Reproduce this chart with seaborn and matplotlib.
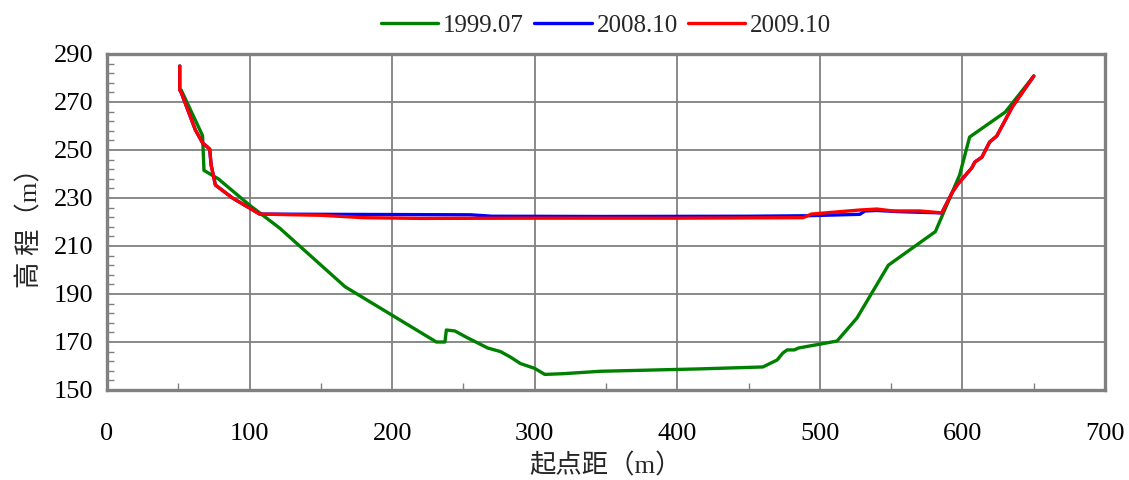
import numpy as np
import pandas as pd
import matplotlib
matplotlib.use("Agg")
import matplotlib.pyplot as plt
from matplotlib.ticker import FixedLocator
import seaborn as sns

x_1999 = [52, 67, 68, 78, 100, 121, 167, 231, 237, 238, 244, 252, 267, 276, 283, 290,
          300, 307, 320, 346, 416, 460, 470, 474, 477, 482, 485, 512, 526, 548, 581, 598,
          605, 630, 650]
y_1999 = [275, 256, 241.5, 238, 227, 217.5, 193, 170, 170, 175, 174.6, 172, 167.5,
          166, 163.7, 161, 159, 156.5, 156.8, 157.8, 158.8, 159.6, 162.5, 165.4, 166.7,
          166.7, 167.5, 170.4, 180, 202, 216, 239.6, 255.4, 265.8, 280.8]

x_2008 = [51, 51, 52, 62, 67, 72, 73, 76, 88, 100, 107, 150, 255, 270, 350, 450, 490,
          528, 531.5, 540, 556, 585.5, 593, 597, 606.5, 608.7, 613.6, 619, 624, 635, 650]
y_2008 = [285, 275, 274, 258.3, 253, 250.4, 243.8, 235.4, 230, 225.8, 223.3, 223.2, 223.0,
          222.4, 222.3, 222.4, 222.6, 223.2, 224.6, 224.8, 224.3, 223.8, 232.5, 236,
          242.5, 245, 247, 253.3, 255.8, 268, 280.8]

x_2009 = [51, 51, 52, 62, 67, 72, 73, 76, 88, 100, 107, 150, 180, 220, 300, 400, 488,
          491, 494, 528, 540, 551, 570, 585.5, 593, 597, 606.5, 608.7, 613.6, 619, 624,
          635, 650]
y_2009 = [285, 275, 274, 258.3, 253, 250.4, 243.8, 235.4, 230, 225.8, 223.3, 222.8, 221.8,
          221.5, 221.6, 221.6, 221.8, 222.5, 223.3, 225, 225.4, 224.6, 224.6, 223.8, 232.5,
          236, 242.5, 245, 247, 253.3, 255.8, 268, 280.8]

series = ["1999.07", "2008.10", "2009.10"]
colors = ["#008000", "#0000ff", "#ff0000"]
y_ticks = [150, 170, 190, 210, 230, 250, 270, 290]
x_ticks = [0, 100, 200, 300, 400, 500, 600, 700]

df = pd.concat([
    pd.DataFrame({"x": x_1999, "y": y_1999, "s": series[0]}),
    pd.DataFrame({"x": x_2008, "y": y_2008, "s": series[1]}),
    pd.DataFrame({"x": x_2009, "y": y_2009, "s": series[2]}),
])

sns.set_style("white")
plt.rcParams['font.family'] = ['Liberation Serif', 'Noto Sans CJK SC']

fig = plt.figure(figsize=(11.29, 4.8), dpi=100)
ax = fig.add_axes([0.0948, 0.1875, 0.884, 0.70])

sns.lineplot(data=df, x="x", y="y", hue="s", palette=dict(zip(series, colors)),
             sort=False, estimator=None, lw=2.4, ax=ax, legend=True)

ax.set_xlim(0, 700)
ax.set_ylim(150, 290)
ax.xaxis.set_major_locator(FixedLocator(x_ticks))
ax.xaxis.set_minor_locator(FixedLocator(np.arange(50, 700, 100)))
ax.yaxis.set_major_locator(FixedLocator(y_ticks))
ax.yaxis.set_minor_locator(FixedLocator([v for v in np.arange(150, 291, 4) if (v - 150) % 20]))
ax.grid(True, which="major", color="#808080", lw=1.3)
ax.set_axisbelow(True)
for sp in ax.spines.values():
    sp.set_color("#808080")
    sp.set_linewidth(2.4)
ax.tick_params(which="major", direction="in", length=0, labelsize=19, colors="black")
ax.tick_params(which="minor", direction="in", length=5, color="#808080", width=1,
               bottom=True, left=True)
ax.tick_params(axis="x", pad=24)
ax.tick_params(axis="y", pad=10)

ax.set_xlabel("起点距（m）", fontsize=19, labelpad=6)
ax.set_ylabel("高 程（m）", fontsize=19, labelpad=8)

handles, labels = ax.get_legend_handles_labels()
leg = ax.legend(handles, labels, loc="lower center", bbox_to_anchor=(0.5, 1.0), ncol=3,
                frameon=False, fontsize=18, handlelength=2.3, handletextpad=0.2,
                columnspacing=0.4, borderaxespad=0.3)

fig.savefig("out.png", dpi=100)
